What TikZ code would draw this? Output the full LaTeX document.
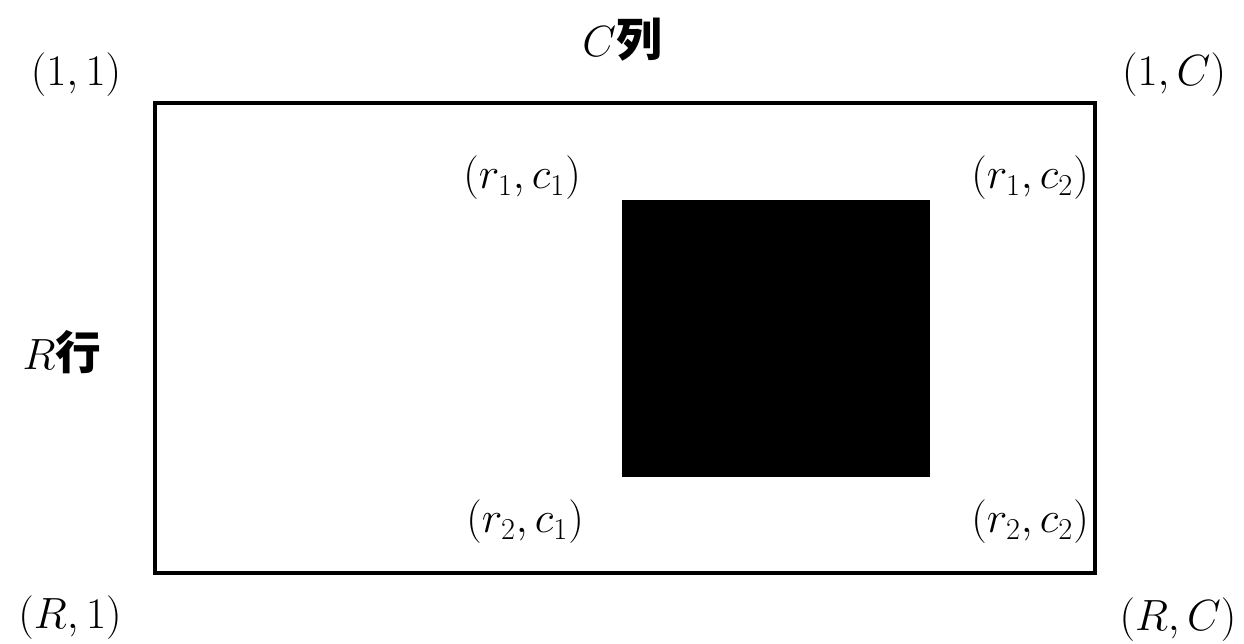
\documentclass[tikz,border=0pt]{standalone}
\usepackage{fontspec}
\newfontfamily\cjk{Noto Sans CJK SC}
\usetikzlibrary{calc}
\definecolor{cInk}{RGB}{0,0,0}
\def\lw{2.2pt}
\tikzset{
  lbl/.style={inner sep=0pt,text=cInk,font=\fontsize{26}{30}\selectfont},
  hdr/.style={lbl},
}
\begin{document}
\begin{tikzpicture}[x=0.02cm,y=-0.02cm]

% bounding box
\useasboundingbox (0,0) rectangle (1244,644);

% =================== GRID ===================
\draw[cInk,line width=\lw] (155,103) rectangle (1095,573);
\coordinate (grid-nw) at (155,103);
\coordinate (grid-se) at (1095,573);

% sub-block
\fill[cInk] (622,200) rectangle (930,477);

% =================== CORNERS ===================
\node[lbl] (cornerNW) at (76,75)   {$(1,1)$};
\node[lbl] (cornerNE) at (1174,75) {$(1,C)$};
\node[lbl] (cornerSW) at (70,618)  {$(R,1)$};
\node[lbl] (cornerSE) at (1178,620) {$(R,C)$};

% =================== HEADERS ===================
\node[hdr] (colsHdr) at (622,40)  {$C${\cjk\bfseries 列}};
\node[hdr] (rowsHdr) at (62,352)  {$R${\cjk\bfseries 行}};

% =================== BLOCK CORNERS ===================
\node[lbl] (blkNW) at (522,178)  {$(r_1,c_1)$};
\node[lbl] (blkNE) at (1030,178) {$(r_1,c_2)$};
\node[lbl] (blkSW) at (525,522)  {$(r_2,c_1)$};
\node[lbl] (blkSE) at (1030,522) {$(r_2,c_2)$};

\end{tikzpicture}
\end{document}
